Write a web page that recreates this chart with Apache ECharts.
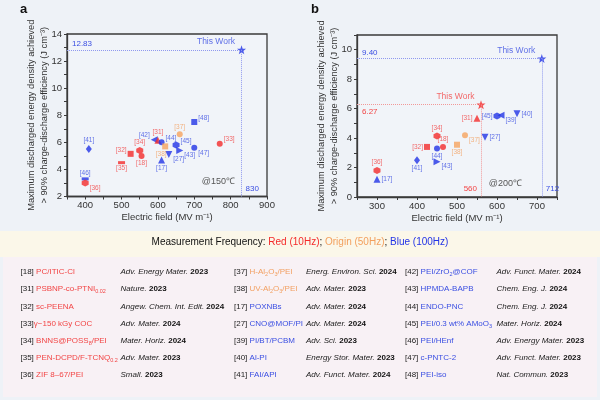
<!DOCTYPE html>
<html><head><meta charset="utf-8">
<script src="https://cdn.jsdelivr.net/npm/echarts@6/dist/echarts.min.js"></script>
<style>html,body{margin:0;padding:0;background:#fff}#c{width:600px;height:400px}</style>
</head><body><div id="c"></div>
<script>
// ---------------- DATA ----------------
// Panel a (@150 C)
const refsA   = ['41','46','36','35','32','34','18','42','31','44','38','37','17','27','45','43','47','48','33'];
const fieldA  = [410,400,400,500,525,550,555,590,600,610,620,660,610,630,650,660,700,700,770];
const energyA = [5.5,3.3,3.0,4.5,5.15,5.4,5.0,6.2,6.15,6.0,5.7,6.6,4.7,5.1,5.8,5.4,5.6,7.5,5.9];
const thisFieldA  = [830];
const thisEnergyA = [12.83];
const thisFreqA   = ['blue'];
// Panel b (@200 C)
const refsB   = ['36','17','41','32','34','44','18','43','38','37','27','31','45','39','40'];
const fieldB  = [300,300,400,425,450,450,465,450,500,520,570,550,600,610,650];
const energyB = [1.8,1.2,2.5,3.4,4.15,3.3,3.4,2.4,3.55,4.2,4.05,5.35,5.5,5.55,5.65];
const thisFieldB  = [560,712];
const thisEnergyB = [6.27,9.40];
const thisFreqB   = ['red','blue'];
// measurement frequency groups
const freqRed    = ['18','31','32','33','34','35','36'];
const freqOrigin = ['37','38'];
const freqBlue   = ['17','27','39','40','41','42','43','44','45','46','47','48'];
// axis ranges
const xRangeA = [350,900], yRangeA = [2,14];
const xRangeB = [250,750], yRangeB = [0,11];
// reference table
const tableRefs = [
  ['18','31','32','33','34','35','36'],
  ['37','38','17','27','39','40','41'],
  ['42','43','44','45','46','47','48']];
const tableNames = [
  ['PC/ITIC-Cl','PSBNP-co-PTNI_{0.02}','sc-PEENA','γ−150 kGy COC','BNNS@POSS_{8}/PEI','PEN-DCPD/F-TCNQ_{0.2}','ZIF 8–67/PEI'],
  ['H-Al_{2}O_{3}/PEI','UV-Al_{2}O_{3}/PEI','POXNBs','CNO@MOF/PI','PI/BT/PCBM','Al-PI','FAI/API'],
  ['PEI/ZrO_{2}@COF','HPMDA-BAPB','ENDO-PNC','PEI/0.3 wt% AMoO_{3}','PEI/HEnf','c-PNTC-2','PEI-iso']];
const tableJournals = [
  ['Adv. Energy Mater.','Nature.','Angew. Chem. Int. Edit.','Adv. Mater.','Mater. Horiz.','Adv. Mater.','Small.'],
  ['Energ. Environ. Sci.','Adv. Mater.','Adv. Mater.','Adv. Mater.','Adv. Sci.','Energy Stor. Mater.','Adv. Funct. Mater.'],
  ['Adv. Funct. Mater.','Chem. Eng. J.','Chem. Eng. J.','Mater. Horiz.','Adv. Energy Mater.','Adv. Funct. Mater.','Nat. Commun.']];
const tableYears = [
  ['2023','2023','2024','2024','2024','2023','2023'],
  ['2024','2023','2024','2024','2023','2023','2024'],
  ['2024','2024','2024','2024','2023','2023','2023']];

// ---------------- STYLE ----------------
const FONT = '"Liberation Sans", Arial, Helvetica, sans-serif';
const COL = {red:'#f42a2a', orange:'#f6a35e', blue:'#2233e6'};
const LCOL = {red:'#f24545', orange:'#f2a062', blue:'#3a4ee2'};
const DASH = {red:'#f29898', blue:'#8f98ef'};
const HEX = 'path://M0,-1L0.866,-0.5L0.866,0.5L0,1L-0.866,0.5L-0.866,-0.5Z';
const STAR = 'path://M0,-10L2.35,-3.24L9.51,-3.09L3.8,1.24L5.88,8.09L0,4L-5.88,8.09L-3.8,1.24L-9.51,-3.09L-2.35,-3.24Z';
const shapeOf = {18:'circle',31:'triUp',32:'square',33:'circle',34:'hex',35:'bar',36:'hex',37:'circle',38:'square',
  17:'triUp',27:'triDown',39:'triLeft',40:'triDown',41:'diamond',42:'triLeft',43:'triRight',44:'circle',45:'hex',46:'bar',47:'circle',48:'square'};
const labA = {41:'t',46:'t',36:'br',35:'b',32:'tl',34:'t',18:'b',42:'tl',31:'t',44:'tr',38:'bl',37:'t',17:'b',27:'br',45:'tr',43:'br',47:'br',48:'tr',33:'tr'};
const labB = {36:'t',17:'r',41:'b',32:'l',34:'t',44:'b',18:'t',43:'br',38:'b',37:'br',27:'r',31:'l',45:'l',39:'br',40:'r'};

function freqOf(r){ return freqRed.includes(r)?'red':(freqOrigin.includes(r)?'orange':'blue'); }
function sym(shape){
  switch(shape){
    case 'circle': return {symbol:'circle',symbolSize:6};
    case 'square': return {symbol:'rect',symbolSize:6};
    case 'triUp': return {symbol:'triangle',symbolSize:7};
    case 'triDown': return {symbol:'triangle',symbolSize:7,symbolRotate:180};
    case 'triLeft': return {symbol:'triangle',symbolSize:7,symbolRotate:90};
    case 'triRight': return {symbol:'triangle',symbolSize:7,symbolRotate:-90};
    case 'hex': return {symbol:HEX,symbolSize:7};
    case 'diamond': return {symbol:'diamond',symbolSize:[6,8]};
    case 'bar': return {symbol:'rect',symbolSize:[7,3]};
  }
}
function labPos(code){
  const m = {t:{position:'top',distance:1},b:{position:'bottom',distance:1},l:{position:'left',distance:1},r:{position:'right',distance:1},
    tr:{position:'right',distance:1,offset:[0,-4]},br:{position:'right',distance:1,offset:[0,5]},
    tl:{position:'left',distance:1,offset:[0,-4]},bl:{position:'bottom',distance:1,offset:[-4,0]}};
  return m[code];
}
function points(refs, xs, ys, labs){
  return refs.map((r,i)=>{
    const f = freqOf(r);
    return Object.assign({value:[xs[i],ys[i]], itemStyle:{color:COL[f]},
      label:Object.assign({show:true, formatter:'['+r+']', color:LCOL[f], fontSize:6.5, fontFamily:FONT}, labPos(labs[r]))}, sym(shapeOf[r]));
  });
}
function thisWork(xs, ys, fs){
  return xs.map((x,i)=>({value:[x,ys[i]], symbol:STAR, symbolSize:9, itemStyle:{color:COL[fs[i]]},
    label:{show:true, formatter:'This Work', position:'left', distance:2, offset:[0,-8], color:LCOL[fs[i]], fontSize:8.5, fontFamily:FONT}}));
}
function guideLines(xs, ys, fs, xr, yr){
  const d = [];
  xs.forEach((x,i)=>{
    const ls = {color:DASH[fs[i]], type:'dotted', width:1};
    d.push([{coord:[xr[0],ys[i]], lineStyle:ls},{coord:[x,ys[i]]}]);
    d.push([{coord:[x,ys[i]], lineStyle:ls},{coord:[x,yr[0]]}]);
  });
  return {silent:true, symbol:'none', label:{show:false}, animation:false, data:d};
}
function xAxis(gi, r){
  return {gridIndex:gi, type:'value', min:r[0], max:r[1], interval:50,
    name:'Electric field (MV m⁻¹)', nameLocation:'middle', nameGap:16, nameMoveOverlap:false,
    nameTextStyle:{fontSize:9.5, color:'#333', fontFamily:FONT},
    axisLine:{show:true, onZero:false, lineStyle:{color:'#3a3a3a', width:1.3}},
    axisTick:{show:true, length:3, lineStyle:{color:'#3a3a3a'}},
    axisLabel:{margin:4, fontSize:9.5, color:'#333', fontFamily:FONT, formatter:v=>v%100===0?String(v):''},
    splitLine:{show:false}};
}
function yAxis(gi, r){
  return {gridIndex:gi, type:'value', min:r[0], max:r[1], interval:1,
    name:'Maximum discharged energy density achieved\n> 90% charge-discharge efficiency (J cm⁻³)',
    nameLocation:'middle', nameGap:15.5, nameRotate:90, nameMoveOverlap:false,
    nameTextStyle:{fontSize:9.3, color:'#333', fontFamily:FONT, lineHeight:13.5},
    axisLine:{show:true, onZero:false, lineStyle:{color:'#3a3a3a', width:1.3}},
    axisTick:{show:true, length:3, lineStyle:{color:'#3a3a3a'}},
    axisLabel:{margin:5, fontSize:9.5, color:'#333', fontFamily:FONT, formatter:v=>v%2===0?String(v):''},
    splitLine:{show:false}};
}

const chart = echarts.init(document.getElementById('c'), null, {renderer:'canvas'});
const option = {
  animation:false,
  backgroundColor:'#eef2f7',
  textStyle:{fontFamily:FONT},
  grid:[
    {left:67, top:34, width:200, height:162.5, show:true, borderColor:'#3a3a3a', borderWidth:1.3, backgroundColor:'#f1f4f9'},
    {left:357, top:35, width:200, height:162, show:true, borderColor:'#3a3a3a', borderWidth:1.3, backgroundColor:'#f1f4f9'}],
  xAxis:[xAxis(0,xRangeA), xAxis(1,xRangeB)],
  yAxis:[yAxis(0,yRangeA), yAxis(1,yRangeB)],
  series:[
    {type:'scatter', xAxisIndex:0, yAxisIndex:0, data:thisWork(thisFieldA,thisEnergyA,thisFreqA), markLine:guideLines(thisFieldA,thisEnergyA,thisFreqA,xRangeA,yRangeA), z:3},
    {type:'scatter', xAxisIndex:0, yAxisIndex:0, data:points(refsA,fieldA,energyA,labA), z:4},
    {type:'scatter', xAxisIndex:1, yAxisIndex:1, data:thisWork(thisFieldB,thisEnergyB,thisFreqB), markLine:guideLines(thisFieldB,thisEnergyB,thisFreqB,xRangeB,yRangeB), z:3},
    {type:'scatter', xAxisIndex:1, yAxisIndex:1, data:points(refsB,fieldB,energyB,labB), z:4}
  ]
};
chart.setOption(option);

// ---------- annotations & table (positions from library scales) ----------
const g = [];
g.push({type:'rect', shape:{x:0,y:231,width:600,height:26}, style:{fill:'#fbf7e9'}, z:-10, silent:true});
g.push({type:'rect', shape:{x:3,y:257,width:594,height:140}, style:{fill:'#f8f1f5'}, z:-10, silent:true});
g.push({type:'text', x:20, y:9, style:{text:'a', font:'bold 13px '+FONT, fill:'#111', verticalAlign:'middle'}});
g.push({type:'text', x:311, y:9, style:{text:'b', font:'bold 13px '+FONT, fill:'#111', verticalAlign:'middle'}});
function addValueLabels(gi, xs, ys, fs, xr, yr, opts){
  xs.forEach((x,i)=>{
    const pY = chart.convertToPixel({gridIndex:gi},[xr[0],ys[i]]);
    const pX = chart.convertToPixel({gridIndex:gi},[x,yr[0]]);
    const o = opts[i];
    g.push({type:'text', x:pY[0]+5, y:pY[1]+(o.yBelow?3:-2), style:{text:ys[i].toFixed(2), font:'8px '+FONT, fill:LCOL[fs[i]], verticalAlign:o.yBelow?'top':'bottom'}});
    g.push({type:'text', x:pX[0]+(o.xLeft?-4:4), y:pX[1]-4, style:{text:String(x), font:'8px '+FONT, fill:LCOL[fs[i]], align:o.xLeft?'right':'left', verticalAlign:'bottom'}});
  });
}
addValueLabels(0, thisFieldA, thisEnergyA, thisFreqA, xRangeA, yRangeA, [{}]);
addValueLabels(1, thisFieldB, thisEnergyB, thisFreqB, xRangeB, yRangeB, [{yBelow:true,xLeft:true},{}]);
const tA = chart.convertToPixel({gridIndex:0},[xRangeA[1],yRangeA[0]]);
const tB = chart.convertToPixel({gridIndex:1},[xRangeB[1],yRangeB[0]]);
g.push({type:'text', x:tA[0]-32, y:tA[1]-15, style:{text:'@150℃', font:'9px '+FONT, fill:'#555', align:'right', verticalAlign:'middle'}});
g.push({type:'text', x:tB[0]-35, y:tB[1]-13, style:{text:'@200℃', font:'9px '+FONT, fill:'#555', align:'right', verticalAlign:'middle'}});
// measurement line
g.push({type:'text', left:'center', top:237, style:{
  text:'{k|Measurement Frequency: }{r|Red (10Hz)}{k|; }{o|Origin (50Hz)}{k|; }{b|Blue (100Hz)}',
  rich:{k:{fill:'#111',fontSize:10,fontFamily:FONT}, r:{fill:COL.red,fontSize:10,fontFamily:FONT},
        o:{fill:'#f3a05e',fontSize:10,fontFamily:FONT}, b:{fill:COL.blue,fontSize:10,fontFamily:FONT}}}});
// table
const colRefX = [20.5, 234, 405], colJX = [120.5, 306, 496.5];
const rowY0 = 272, rowStep = 17.2;
function nameRich(name, key){
  const parts = [];
  const re = /_\{([^}]*)\}/g; let last = 0, m;
  while((m = re.exec(name))){ if(m.index>last) parts.push('{'+key+'|'+name.slice(last,m.index)+'}'); parts.push('{'+key+'s|'+m[1]+'}'); last = re.lastIndex; }
  if(last<name.length) parts.push('{'+key+'|'+name.slice(last)+'}');
  return parts.join('');
}
const baseRich = {
  k:{fill:'#222',fontSize:8,fontFamily:FONT,lineHeight:11},
  j:{fill:'#222',fontSize:8,fontFamily:FONT,fontStyle:'italic',lineHeight:11},
  y:{fill:'#111',fontSize:8,fontFamily:FONT,fontWeight:'bold',lineHeight:11}};
['red','orange','blue'].forEach(c=>{
  baseRich[c] = {fill:LCOL[c],fontSize:8,fontFamily:FONT,lineHeight:11};
  baseRich[c+'s'] = {fill:LCOL[c],fontSize:5.5,fontFamily:FONT,lineHeight:11,verticalAlign:'bottom',padding:[3,0,0,0]};
});
tableRefs.forEach((col,ci)=>{
  col.forEach((r,ri)=>{
    const y = rowY0 + ri*rowStep;
    const f = freqOf(r);
    const sep = (r==='33')?'':' ';
    g.push({type:'text', x:colRefX[ci], y:y, style:{text:'{k|['+r+']'+sep+'}'+nameRich(tableNames[ci][ri], f), rich:baseRich, verticalAlign:'middle'}});
    g.push({type:'text', x:colJX[ci], y:y, style:{text:'{j|'+tableJournals[ci][ri]+' }{y|'+tableYears[ci][ri]+'}', rich:baseRich, verticalAlign:'middle'}});
  });
});
chart.setOption({graphic:g});
</script></body></html>
